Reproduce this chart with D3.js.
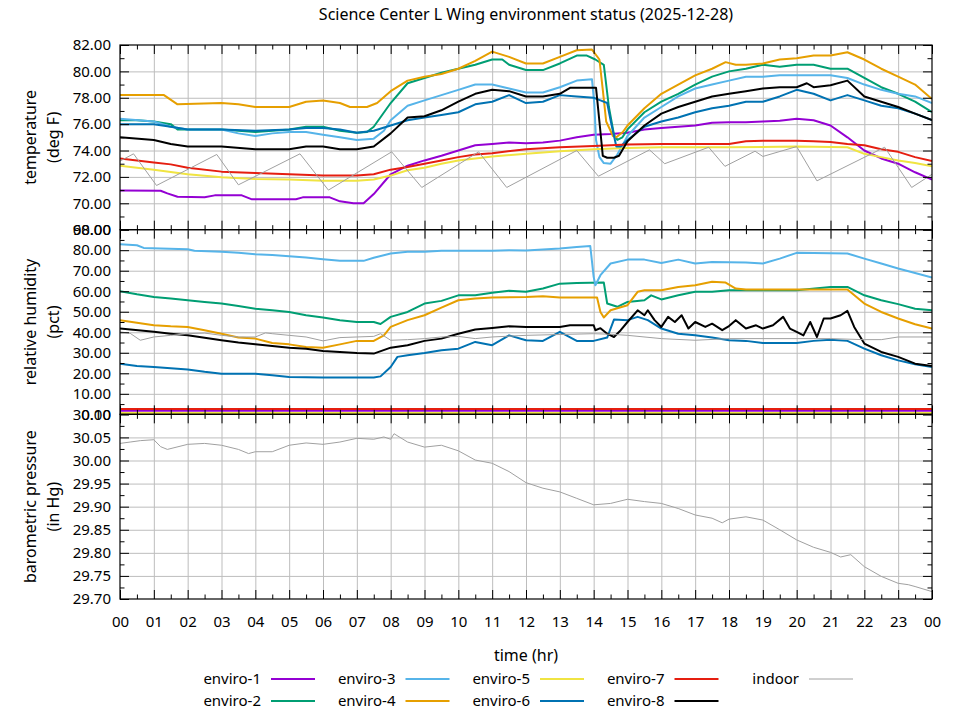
<!DOCTYPE html>
<html>
<head>
<meta charset="utf-8">
<title>Science Center L Wing environment status</title>
<script src="https://cdn.jsdelivr.net/npm/d3@7"></script>
<style>
    body { margin: 0; background: #fff; }
    svg { font-family: "Noto Sans", sans-serif; }
</style>
</head>
<body>
<div id="chart"></div>
<script>
// ---- data (hour of day, value) ----
const seriesNames = ["enviro-1", "enviro-2", "enviro-3", "enviro-4", "enviro-5",
                     "enviro-6", "enviro-7", "enviro-8", "indoor"];
const seriesColors = ["#9400d3", "#009e73", "#56b4e9", "#e69f00", "#f0e442",
                      "#0072b2", "#e51e10", "#000000", "#a0a0a0"];

const hourLabels = ["00","01","02","03","04","05","06","07","08","09","10","11","12",
                    "13","14","15","16","17","18","19","20","21","22","23","00"];
const tempTicks = [68, 70, 72, 74, 76, 78, 80, 82];
const humidityTicks = [0, 10, 20, 30, 40, 50, 60, 70, 80, 90];
const pressureTicks = [29.70, 29.75, 29.80, 29.85, 29.90, 29.95, 30.00, 30.05, 30.10];

// temperature (deg F)
const tempEnviro1 = [[0,70.96],[1.2,70.95],[1.4,70.75],[1.7,70.5],[2.5,70.45],[2.8,70.6],[3.6,70.6],[3.9,70.3],[5.2,70.3],[5.4,70.45],[6.2,70.45],[6.5,70.15],[6.9,70.0],[7.2,70.0],[7.5,70.7],[8,72.2],[8.5,72.85],[9,73.25],[9.5,73.6],[10,74.0],[10.5,74.4],[11,74.5],[11.5,74.6],[12,74.55],[12.5,74.6],[13,74.75],[13.5,75.0],[14,75.2],[14.5,75.25],[15,75.35],[15.5,75.6],[16,75.7],[16.5,75.8],[17,75.9],[17.5,76.1],[18,76.15],[18.5,76.15],[19,76.2],[19.5,76.25],[20,76.4],[20.5,76.3],[21,75.9],[21.5,75.0],[22,74.0],[22.5,73.4],[23,73.0],[23.5,72.35],[24,71.8]];
const tempEnviro2 = [[0,76.3],[0.5,76.3],[1,76.2],[1.5,76.0],[1.7,75.6],[3,75.6],[3.5,75.5],[4,75.4],[4.5,75.5],[5,75.6],[5.5,75.8],[6,75.8],[6.5,75.5],[7,75.35],[7.3,75.4],[7.5,75.8],[8,77.6],[8.5,79.1],[9,79.5],[9.5,79.9],[10,80.2],[10.5,80.5],[11,80.9],[11.3,80.9],[11.5,80.5],[12,80.1],[12.5,80.1],[13,80.6],[13.5,81.2],[13.8,81.2],[14.05,80.9],[14.3,80.5],[14.45,77.3],[14.6,75.2],[14.7,74.8],[14.85,75.0],[15,75.6],[15.5,76.9],[16,77.7],[16.5,78.3],[17,79.0],[17.5,79.6],[18,80.0],[18.5,80.2],[19,80.5],[19.5,80.35],[20,80.5],[20.5,80.5],[21,80.2],[21.5,80.2],[22,79.5],[22.5,78.8],[23,78.3],[23.5,77.7],[24,76.9]];
const tempEnviro3 = [[0,76.4],[1,76.2],[1.5,75.8],[2,75.6],[3,75.6],[3.5,75.3],[4,75.1],[4.5,75.3],[5,75.4],[5.5,75.4],[6,75.2],[6.5,75.0],[7,74.8],[7.5,74.9],[7.8,75.5],[8,76.3],[8.5,77.4],[9,77.8],[9.5,78.2],[10,78.6],[10.5,79.0],[11,79.0],[11.5,78.7],[12,78.4],[12.5,78.4],[13,78.8],[13.5,79.3],[13.95,79.4],[14.02,77.5],[14.07,74.8],[14.17,73.5],[14.3,73.05],[14.5,73.0],[14.7,73.7],[15,75.1],[15.5,76.5],[16,77.3],[16.5,78.1],[17,78.7],[17.5,79.0],[18,79.3],[18.5,79.6],[19,79.6],[19.5,79.7],[20,79.7],[20.5,79.7],[21,79.7],[21.5,79.5],[22,79.0],[22.5,78.6],[23,78.3],[23.5,78.1],[24,77.6]];
const tempEnviro4 = [[0,78.2],[1.3,78.2],[1.7,77.5],[3,77.6],[3.5,77.5],[4,77.3],[5,77.3],[5.5,77.7],[6,77.8],[6.5,77.6],[6.8,77.3],[7.3,77.3],[7.6,77.6],[8,78.5],[8.5,79.3],[9,79.6],[9.5,79.8],[10,80.2],[10.5,80.8],[11,81.5],[11.5,81.1],[12,80.6],[12.5,80.6],[13,81.1],[13.5,81.6],[13.95,81.65],[14.17,80.9],[14.27,78.6],[14.37,76.2],[14.57,75.1],[14.67,75.0],[14.86,75.4],[15,75.9],[15.5,77.2],[16,78.3],[16.5,79.0],[17,79.7],[17.5,80.2],[17.9,80.7],[18.2,80.5],[18.5,80.5],[19,80.6],[19.5,80.9],[20,81.0],[20.5,81.2],[21,81.2],[21.5,81.45],[22,80.9],[22.5,80.2],[23,79.6],[23.5,79.0],[24,77.9]];
const tempEnviro5 = [[0,72.85],[1,72.55],[2,72.2],[3,71.97],[4,71.85],[5,71.8],[6,71.7],[7,71.7],[7.5,71.8],[8,72.1],[8.5,72.5],[9,72.7],[9.5,73.0],[10,73.25],[10.5,73.4],[11,73.55],[12,73.75],[13,73.95],[14,74.1],[15,74.2],[16,74.25],[18,74.25],[20,74.3],[21.5,74.25],[22,73.75],[22.5,73.5],[23,73.25],[23.5,73.05],[24,72.8]];
const tempEnviro6 = [[0,76.0],[1,76.0],[1.5,75.8],[2,75.6],[3,75.6],[4,75.5],[5,75.6],[5.5,75.7],[6,75.7],[6.5,75.6],[7,75.35],[7.5,75.5],[8,75.9],[8.5,76.3],[9,76.5],[9.5,76.7],[10,76.9],[10.5,77.5],[11,77.7],[11.5,78.2],[12,77.6],[12.5,77.7],[13,78.2],[13.5,78.1],[14,78.0],[14.2,77.8],[14.4,77.6],[14.5,76.3],[14.67,74.3],[14.8,74.3],[15,74.8],[15.5,75.8],[16,76.2],[16.5,76.5],[17,76.9],[17.5,77.2],[18,77.4],[18.5,77.7],[19,77.7],[19.5,78.1],[20,78.6],[20.5,78.3],[21,77.8],[21.5,78.2],[22,77.8],[22.5,77.4],[23,77.2],[23.5,76.8],[24,76.3]];
const tempEnviro7 = [[0,73.4],[1,73.1],[1.5,72.95],[2,72.7],[3,72.4],[4,72.3],[5,72.2],[6,72.1],[7,72.1],[7.5,72.2],[8,72.55],[8.5,72.75],[9,73.0],[9.5,73.25],[10,73.5],[10.5,73.7],[11,73.8],[12,74.1],[13,74.25],[14,74.35],[15,74.45],[16,74.5],[18,74.5],[18.5,74.7],[19,74.75],[20,74.75],[20.5,74.7],[21,74.65],[21.5,74.5],[22,74.4],[22.5,74.1],[23,73.9],[23.5,73.5],[24,73.2]];
const tempEnviro8 = [[0,75.0],[1,74.8],[1.5,74.5],[2,74.3],[3,74.3],[4,74.1],[5,74.1],[5.5,74.3],[6,74.3],[6.5,74.1],[7,74.1],[7.5,74.3],[8,75.3],[8.5,76.5],[9,76.6],[9.5,77.05],[10,77.7],[10.5,78.3],[11,78.6],[11.5,78.5],[12,78.1],[12.5,78.1],[13,78.3],[13.3,78.75],[14.07,78.75],[14.17,76.2],[14.27,73.6],[14.4,73.45],[14.6,73.45],[14.75,73.6],[15,74.7],[15.5,75.9],[16,76.8],[16.5,77.3],[17,77.7],[17.5,78.1],[18,78.3],[18.5,78.5],[19,78.7],[19.5,78.8],[20,78.8],[20.3,79.1],[20.5,78.8],[21,78.95],[21.5,79.3],[22,78.1],[22.5,77.7],[23,77.3],[23.5,76.8],[24,76.3]];
const tempIndoor = [[0,73.2],[0.4,73.75],[1.08,71.35],[2.86,73.7],[3.5,71.4],[5.32,73.75],[6.16,71.0],[8.03,73.9],[8.92,71.2],[10.6,73.9],[11.43,71.2],[13.5,74.0],[14.14,72.05],[15.65,74.05],[16.1,73.0],[17.4,74.25],[17.88,72.8],[18.77,73.95],[19.0,73.55],[20.0,74.3],[20.6,71.7],[22.6,74.25],[23.4,71.2],[24,72.2]];

// relative humidity (pct)
const humidityEnviro1 = [[0,1.8],[24,1.8]];
const humidityEnviro2 = [[0,60],[0.5,58.5],[1,57.2],[1.5,56.4],[2,55.6],[2.5,54.8],[3,54],[3.5,52.8],[4,51.5],[4.5,50.7],[5,49.9],[5.5,48.3],[6,47.2],[6.5,45.9],[7,45],[7.5,45],[7.7,44],[8,47.5],[8.5,49.9],[9,54],[9.5,55.3],[10,58],[10.5,58],[11,59.2],[11.5,60.2],[12,59.7],[12.5,61.3],[13,63.7],[13.5,64],[14.3,64.2],[14.4,54],[14.7,52.4],[15,54.8],[15.5,55.6],[15.7,58],[16,56],[16.5,58],[17,59.7],[17.5,59.7],[18,60.5],[20,60.5],[21,62.1],[21.5,62.1],[22,58],[22.5,55.6],[23,53.7],[23.5,51.5],[24,50.7]];
const humidityEnviro3 = [[0,82.9],[0.5,82.4],[0.7,81.1],[1.2,80.8],[2,80.5],[2.2,79.7],[3,79.2],[3.5,78.7],[4,78.0],[4.5,77.6],[5,77.1],[5.5,76.4],[6,75.6],[6.5,74.8],[7.2,74.8],[7.5,76.3],[8,78.4],[8.5,79.2],[9,79.2],[9.5,79.7],[11,79.7],[11.5,80.0],[12,79.8],[12.5,80.3],[13,80.8],[13.5,81.6],[13.9,82.0],[14.0,67],[14.05,62.9],[14.2,67.8],[14.5,73.5],[15,75.4],[15.5,75.4],[16,73.8],[16.5,75.4],[17,73.5],[17.5,74.3],[18.5,74.0],[19,73.5],[19.5,75.9],[20,78.7],[21.5,78.4],[22,75.9],[22.5,73.5],[23,71.1],[23.5,68.9],[24,66.7]];
const humidityEnviro4 = [[0,45.9],[0.5,44.6],[1,43.4],[1.5,42.9],[2,42.6],[2.5,41],[3,39.3],[3.5,37.4],[4,36.9],[4.5,34.8],[5,34.1],[5.5,32.8],[6,32.5],[6.5,34.1],[7,35.8],[7.5,35.8],[7.8,38.5],[8,42.6],[8.5,45.9],[9,48.3],[9.5,52],[10,55.6],[10.5,56.4],[11,56.9],[12,57.2],[12.5,57.6],[13,56.9],[14.1,56.9],[14.2,49.9],[14.3,47.2],[14.5,50.7],[15,53.2],[15.3,59.7],[15.5,60.5],[16,60.5],[16.5,62.1],[17,62.9],[17.5,64.6],[17.9,64.2],[18.2,61.3],[18.5,60.8],[21.5,60.8],[22,54],[22.5,49.9],[23,46.7],[23.5,43.9],[24,41.8]];
const humidityEnviro5 = [[0,0.7],[24,0.7]];
const humidityEnviro6 = [[0,24.7],[0.5,23.6],[1,23.1],[2,21.8],[2.5,20.7],[3,19.8],[4,19.8],[4.5,19],[5,18.2],[6,17.9],[7.5,17.9],[7.7,18.5],[8,23.1],[8.2,28],[8.5,28.8],[9,29.9],[9.5,31.2],[10,32],[10.5,35.3],[11,33.7],[11.5,38.5],[12,36.1],[12.5,35.8],[13,40.2],[13.5,35.8],[14,35.8],[14.4,37.4],[14.6,46.2],[15,45.9],[15.3,47.5],[15.6,45.9],[16,41.8],[16.5,39.3],[17,38.5],[17.5,37.4],[18,36.1],[18.5,35.8],[19,34.8],[20,34.8],[20.5,35.8],[21,36.4],[21.5,35.8],[22,32],[22.5,28.8],[23,26.3],[23.5,24.4],[24,23.1]];
const humidityEnviro7 = [[0,2.6],[24,2.6]];
const humidityEnviro8 = [[0,41.8],[1,40.2],[1.5,39.3],[2,38.5],[3,36.1],[3.5,35],[4,34.1],[5,32.5],[5.5,32],[6,30.9],[6.5,30.4],[7,29.9],[7.5,29.6],[8,32.5],[8.5,33.7],[9,35.8],[9.5,36.9],[10,39.3],[10.5,41.3],[11,42.1],[11.5,42.9],[12,42.6],[13,42.6],[13.3,43.4],[14,43.4],[14.05,41],[14.2,42],[14.4,39.3],[14.6,37.7],[14.8,41],[15,45],[15.3,50.7],[15.5,48.3],[15.6,50.7],[15.8,45.9],[16,42.6],[16.2,47.5],[16.4,45],[16.6,48.3],[16.8,41.8],[17,45],[17.3,42.6],[17.5,44.2],[17.8,41],[18,43],[18.2,45.9],[18.5,41.8],[18.8,43.4],[19,41.8],[19.3,43.4],[19.6,47.5],[19.8,41.8],[20,40.2],[20.2,38.5],[20.4,45],[20.6,37.7],[20.8,46.7],[21,46.7],[21.3,48.3],[21.5,50.4],[21.7,42.6],[22,34.5],[22.5,30.4],[23,28],[23.5,24.7],[24,23.6]];
const humidityIndoor = [[0,40.2],[0.3,39.5],[0.6,36.1],[1,37.7],[1.5,38.5],[2,39.3],[2.5,39.6],[3,38.5],[3.5,37.7],[4,37.7],[4.3,39.7],[4.5,39.3],[5,38.5],[5.5,37.7],[6,35.8],[6.5,37.4],[7,37.7],[7.5,38.0],[7.7,39.3],[8,36.1],[8.5,36.4],[9,36.9],[9.5,37.7],[10,38.0],[10.5,36.9],[11,37.7],[12,38.5],[14,39.3],[14.5,39],[15,38.5],[16,36.9],[17,36.1],[18,36.9],[21,36.9],[22,36.4],[22.5,36.4],[23,37.7],[24,37.7]];

// barometric pressure (in Hg), only the indoor sensor reports it
const pressureIndoor = [[0,30.037],[0.3,30.04],[0.6,30.043],[1,30.045],[1.2,30.03],[1.4,30.024],[2,30.035],[2.5,30.037],[3,30.033],[3.5,30.024],[3.8,30.015],[4,30.019],[4.5,30.019],[5,30.033],[5.5,30.038],[6,30.035],[6.5,30.04],[7,30.048],[7.5,30.046],[7.8,30.051],[8.0,30.046],[8.1,30.058],[8.5,30.04],[9,30.029],[9.5,30.033],[10,30.021],[10.5,30.001],[11,29.994],[11.5,29.976],[12,29.952],[12.5,29.94],[13,29.932],[13.5,29.918],[14,29.904],[14.5,29.907],[15,29.916],[15.5,29.911],[16,29.907],[16.5,29.896],[17,29.882],[17.5,29.875],[17.8,29.865],[18,29.873],[18.5,29.878],[19,29.871],[19.5,29.85],[20,29.828],[20.5,29.812],[21,29.801],[21.3,29.791],[21.6,29.796],[22,29.77],[22.5,29.749],[23,29.734],[23.3,29.731],[23.5,29.727],[24,29.716]];

function init() {
    const w = 960;
    const h = 720;
    const left = 120, right = 932;
    const plotTop = 45, plotBottom = 599;
    const panelH = (plotBottom - plotTop) / 3;
    const majorTick = 9, minorTick = 4.5;
    const fontSize = 15;     // ticks and legend
    const labelSize = 16;    // title and axis labels

    const svg = d3.select("#chart")
        .append("svg")
        .attr("width", w)
        .attr("height", h)
        .attr("font-size", fontSize);

    const xScale = d3.scaleLinear().domain([0, 24]).range([left, right]);
    const hours = d3.range(0, 25);
    const halfHours = d3.range(0.5, 24, 1);

    const panels = [
        {
            label: ["temperature", "(deg F)"],
            domain: [68, 82], ticks: tempTicks, minorStep: 1,
            series: [tempEnviro1, tempEnviro2, tempEnviro3, tempEnviro4, tempEnviro5,
                     tempEnviro6, tempEnviro7, tempEnviro8, tempIndoor]
        },
        {
            label: ["relative humidity", "(pct)"],
            domain: [0, 90], ticks: humidityTicks, minorStep: 5,
            series: [humidityEnviro1, humidityEnviro2, humidityEnviro3, humidityEnviro4, humidityEnviro5,
                     humidityEnviro6, humidityEnviro7, humidityEnviro8, humidityIndoor]
        },
        {
            label: ["barometric pressure", "(in Hg)"],
            domain: [29.70, 30.10], ticks: pressureTicks, minorStep: 0.025,
            series: [null, null, null, null, null, null, null, null, pressureIndoor]
        }
    ];

    panels.forEach((p, i) => {
        const top = plotTop + i * panelH;
        const bottom = top + panelH;
        const yScale = d3.scaleLinear().domain(p.domain).range([bottom, top]);
        const minorTicks = d3.range(p.domain[0] + p.minorStep, p.domain[1], p.minorStep * 2);
        const g = svg.append("g");

        // grid
        g.append("g")
            .attr("transform", `translate(0,${bottom})`)
            .call(d3.axisBottom(xScale).tickValues(hours.slice(1, -1)).tickSize(-panelH).tickFormat(""))
            .call(a => a.select(".domain").remove())
            .call(a => a.selectAll("line").attr("stroke", "#bdbdbd"));
        g.append("g")
            .attr("transform", `translate(${left},0)`)
            .call(d3.axisLeft(yScale).tickValues(p.ticks.slice(1, -1)).tickSize(-(right - left)).tickFormat(""))
            .call(a => a.select(".domain").remove())
            .call(a => a.selectAll("line").attr("stroke", "#bdbdbd"));

        // data lines
        g.append("clipPath").attr("id", "clip" + i)
            .append("rect").attr("x", left).attr("y", top)
            .attr("width", right - left).attr("height", panelH);

        const line = d3.line()
            .x(d => xScale(d[0]))
            .y(d => yScale(d[1]));

        p.series.forEach((s, k) => {
            if (!s) return;
            g.append("path")
                .datum(s)
                .attr("clip-path", `url(#clip${i})`)
                .attr("fill", "none")
                .attr("stroke", seriesColors[k])
                .attr("stroke-width", k === 8 ? 1 : 2)
                .attr("stroke-linejoin", "round")
                .attr("d", line);
        });

        // inward ticks on all four sides
        const tickAxes = [
            [d3.axisLeft(yScale), `translate(${left},0)`, p.ticks, minorTicks],
            [d3.axisRight(yScale), `translate(${right},0)`, p.ticks, minorTicks],
            [d3.axisTop(xScale), `translate(0,${top})`, hours, halfHours],
            [d3.axisBottom(xScale), `translate(0,${bottom})`, hours, halfHours]
        ];
        tickAxes.forEach(([axis, tr, major, minor]) => {
            g.append("g").attr("transform", tr)
                .call(axis.tickValues(major).tickSize(-majorTick).tickFormat(""))
                .call(a => a.select(".domain").remove());
            g.append("g").attr("transform", tr)
                .call(axis.tickValues(minor).tickSize(-minorTick).tickFormat(""))
                .call(a => a.select(".domain").remove());
        });
        g.selectAll(".tick line").filter(function() { return this.getAttribute("stroke") !== "#bdbdbd"; })
            .attr("stroke", "#000");

        // y tick labels
        g.append("g")
            .attr("transform", `translate(${left},0)`)
            .call(d3.axisLeft(yScale).tickValues(p.ticks).tickSize(0).tickPadding(9).tickFormat(d3.format(".2f")))
            .call(a => a.select(".domain").remove())
            .call(a => a.selectAll("text").attr("font-size", fontSize).attr("font-family", "Noto Sans").attr("fill", "#000"));

        // border
        g.append("rect")
            .attr("x", left).attr("y", top)
            .attr("width", right - left).attr("height", panelH)
            .attr("fill", "none").attr("stroke", "#000").attr("stroke-width", 1.2);

        // y axis label (two lines)
        const cy = (top + bottom) / 2;
        [30, 53].forEach((x, j) => {
            svg.append("text")
                .attr("transform", `translate(${x},${cy}) rotate(-90)`)
                .attr("text-anchor", "middle")
                .attr("font-size", labelSize)
                .attr("dy", "0.35em")
                .text(p.label[j]);
        });
    });

    // x tick labels under the last panel
    svg.append("g")
        .attr("transform", `translate(0,${plotBottom})`)
        .call(d3.axisBottom(xScale).tickValues(hours).tickSize(0).tickPadding(17)
            .tickFormat((d, i) => hourLabels[i]))
        .call(a => a.select(".domain").remove())
        .call(a => a.selectAll("text").attr("font-size", fontSize).attr("font-family", "Noto Sans").attr("fill", "#000"));

    svg.append("text")
        .attr("x", (left + right) / 2)
        .attr("y", 655)
        .attr("text-anchor", "middle")
        .attr("font-size", labelSize)
        .attr("dy", "0.35em")
        .text("time (hr)");

    // title
    svg.append("text")
        .attr("x", (left + right) / 2)
        .attr("y", 14)
        .attr("text-anchor", "middle")
        .attr("font-size", labelSize)
        .attr("dy", "0.35em")
        .text("Science Center L Wing environment status (2025-12-28)");

    // legend: two rows, filled column by column
    const legend = svg.append("g");
    seriesNames.forEach((name, k) => {
        const col = Math.floor(k / 2), row = k % 2;
        const textRight = 261 + col * 134.5;
        const y = 679 + row * 22;
        legend.append("text")
            .attr("x", textRight).attr("y", y)
            .attr("text-anchor", "end")
            .attr("dy", "0.35em")
            .text(name);
        legend.append("line")
            .attr("x1", textRight + 10).attr("x2", textRight + 54)
            .attr("y1", y).attr("y2", y)
            .attr("stroke", seriesColors[k])
            .attr("stroke-width", k === 8 ? 1 : 2);
    });
}

window.onload = init;
</script>
</body>
</html>
